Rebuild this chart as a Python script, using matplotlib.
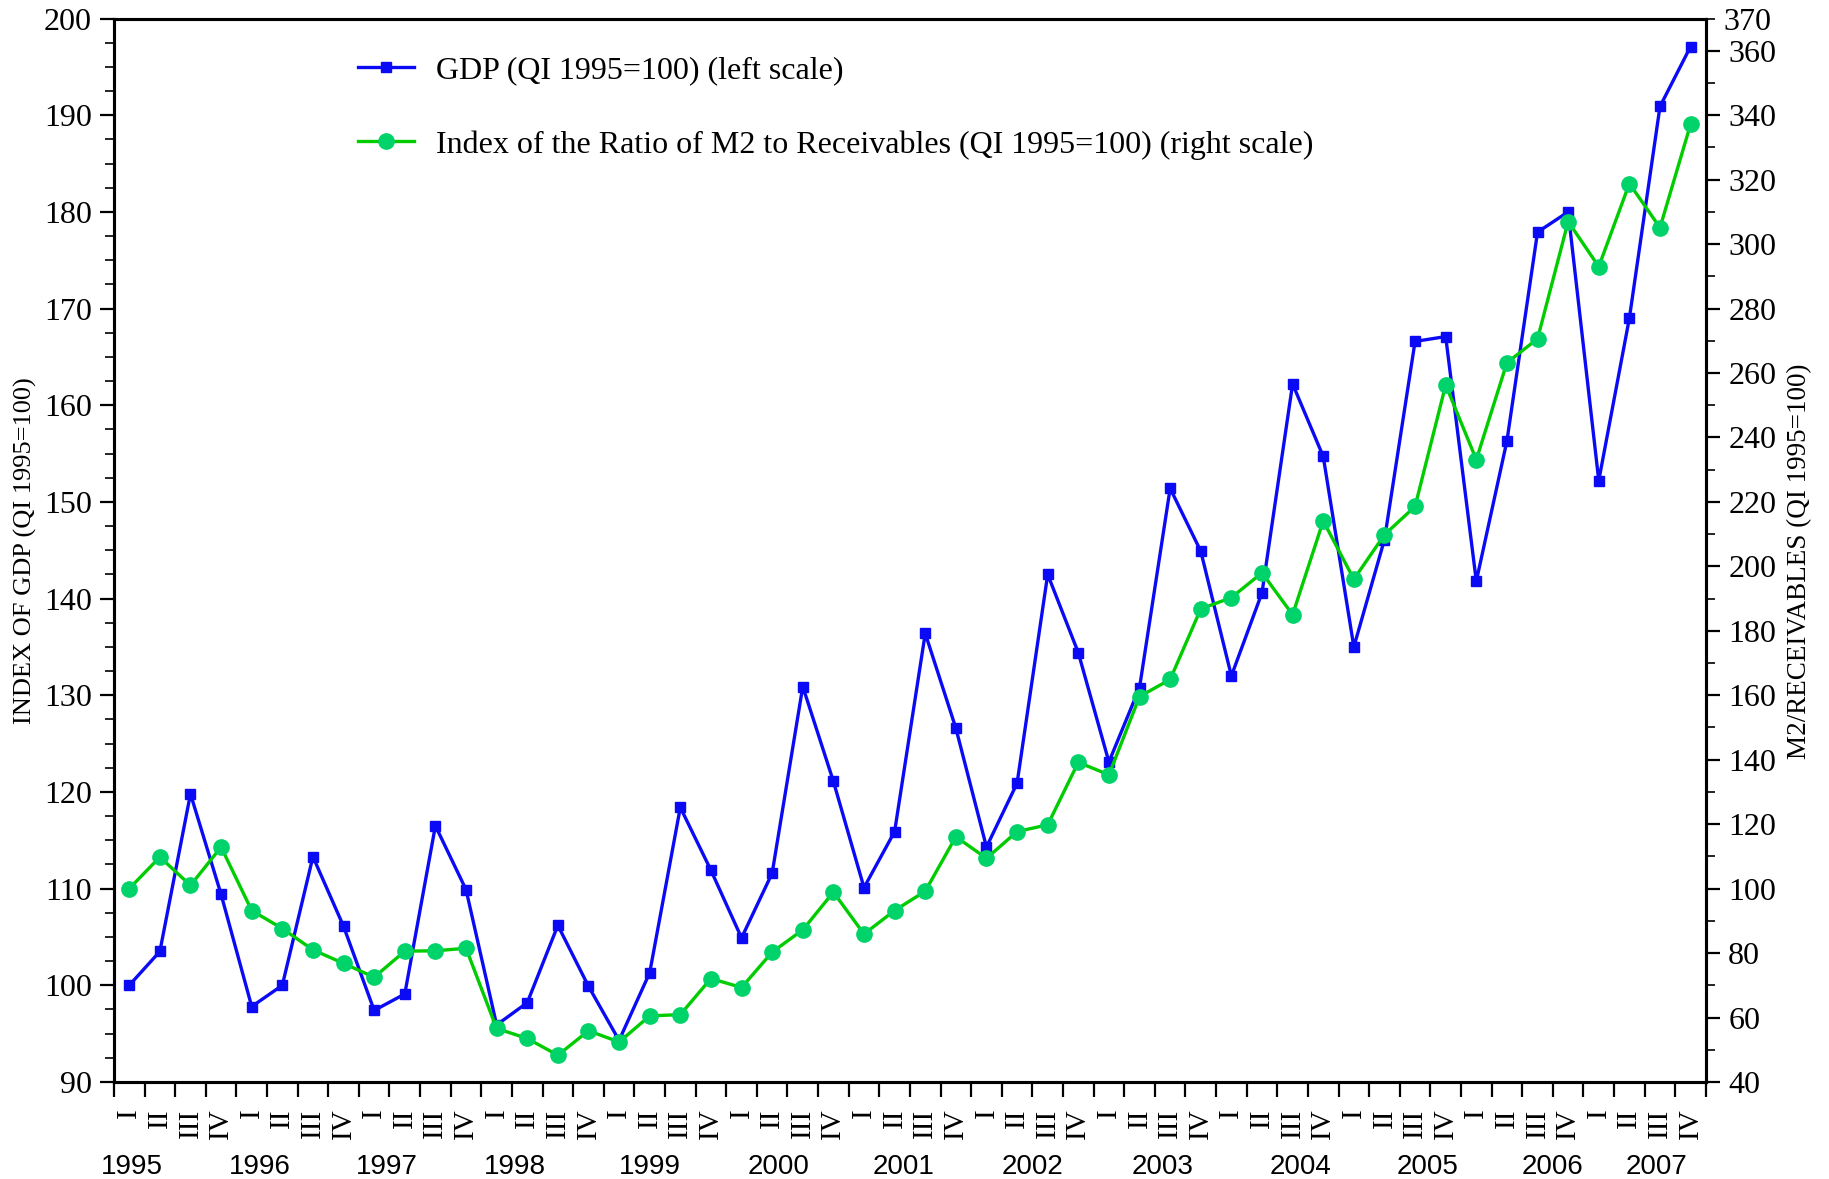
import matplotlib
matplotlib.use("Agg")
import matplotlib.pyplot as plt
from matplotlib.ticker import FixedLocator, FixedFormatter, MultipleLocator, NullFormatter
from matplotlib.transforms import blended_transform_factory

plt.rcParams['font.family'] = ['Liberation Serif', 'DejaVu Serif']

# quarterly series, 1995 QI .. 2007 QIV
years = [1995, 1996, 1997, 1998, 1999, 2000, 2001, 2002, 2003, 2004, 2005, 2006, 2007]
quarters = ["I", "II", "III", "IV"]

gdp = [100.0, 103.5, 119.8, 109.4,
       97.8, 100.0, 113.3, 106.1,
       97.4, 99.1, 116.5, 109.9,
       95.9, 98.2, 106.2, 99.9,
       94.3, 101.3, 118.4, 111.9,
       104.9, 111.6, 130.9, 121.1,
       110.1, 115.9, 136.4, 126.6,
       114.3, 120.9, 142.5, 134.4,
       123.1, 130.8, 151.4, 144.9,
       132.0, 140.6, 162.2, 154.7,
       135.0, 146.1, 166.6, 167.1,
       141.8, 156.3, 177.9, 180.0,
       152.2, 169.0, 190.9, 197.1]

m2_ratio = [100.0, 109.8, 101.0, 112.9,
            93.2, 87.6, 81.0, 76.8,
            72.5, 80.6, 80.7, 81.5,
            56.6, 53.5, 48.3, 55.9,
            52.4, 60.5, 60.9, 72.1,
            69.3, 80.3, 87.2, 98.9,
            85.9, 93.2, 99.2, 116.1,
            109.4, 117.7, 119.8, 139.2,
            135.3, 159.6, 164.9, 186.8,
            190.3, 198.0, 185.0, 214.1,
            196.0, 209.8, 218.6, 256.3,
            233.1, 263.2, 270.6, 307.0,
            293.0, 318.8, 305.1, 337.2]

# where the year captions sit along the quarter axis
year_label_x = [0.08, 4.26, 8.41, 12.6, 17.0, 21.2, 25.3, 29.5, 33.76, 38.25, 42.4, 46.5, 49.9]

n = len(gdp)
x = list(range(n))
q_labels = [quarters[i % 4] for i in x]

fig = plt.figure(figsize=(18.29, 11.79), dpi=100)
ax = fig.add_axes([0.0623, 0.0823, 0.8704, 0.902])
ax2 = ax.twinx()

l1, = ax.plot(x, gdp, color='#0a0af5', lw=2.4, marker='s', ms=7.5,
              mfc='#0a0af5', mec='#0a0af5', label='GDP (QI 1995=100) (left scale)')
l2, = ax2.plot(x, m2_ratio, color='#00cc00', lw=2.4, marker='o', ms=11,
               mfc='#00d36a', mec='#00d36a',
               label='Index of the Ratio of M2 to Receivables (QI 1995=100) (right scale)')

ax.set_xlim(-0.5, n - 0.5)
ax.set_ylim(90, 200)
ax2.set_ylim(40, 370)

# left scale
ax.yaxis.set_major_locator(MultipleLocator(10))
ax.yaxis.set_minor_locator(MultipleLocator(2.5))
ax.tick_params(axis='y', which='major', direction='out', length=10, width=1.6,
               labelsize=23, pad=6)
ax.tick_params(axis='y', which='minor', direction='out', length=6.5, width=1.2)

# right scale: majors every 20, minors every 10, 370 labelled at the top
ax2.yaxis.set_major_locator(FixedLocator(list(range(40, 361, 20))))
minor_r = list(range(50, 351, 20)) + [370]
ax2.yaxis.set_minor_locator(FixedLocator(minor_r))
ax2.yaxis.set_minor_formatter(FixedFormatter(['' for v in minor_r[:-1]] + ['370']))
ax2.tick_params(axis='y', which='major', direction='out', length=10, width=1.6,
                labelsize=23, pad=6)
ax2.tick_params(axis='y', which='minor', direction='out', length=6.5, width=1.2,
                labelsize=23, pad=6)

# quarter ticks on boundaries, roman numerals in between
ax.xaxis.set_major_locator(FixedLocator([i - 0.5 for i in range(n + 1)]))
ax.xaxis.set_major_formatter(NullFormatter())
ax.xaxis.set_minor_locator(FixedLocator(x))
ax.xaxis.set_minor_formatter(FixedFormatter(q_labels))
ax.tick_params(axis='x', which='major', direction='out', length=11, width=1.6)
ax.tick_params(axis='x', which='minor', length=0, pad=19, labelsize=21,
               labelrotation=90)

for a in (ax, ax2):
    for s in a.spines.values():
        s.set_linewidth(2.2)

trans = blended_transform_factory(ax.transData, fig.transFigure)
for yr, xp in zip(years, year_label_x):
    ax.text(xp, 0.010, str(yr), transform=trans, ha='center', va='center',
            fontsize=20, family=['Liberation Sans', 'DejaVu Sans'])

fig.text(0.014, 0.533, 'INDEX OF GDP (QI 1995=100)', rotation=90,
         ha='center', va='center', fontsize=19)
fig.text(0.984, 0.5236, 'M2/RECEIVABLES (QI 1995=100)', rotation=90,
         ha='center', va='center', fontsize=19.5)

ax2.legend([l1, l2], [l1.get_label(), l2.get_label()], loc='upper left',
           bbox_to_anchor=(0.187, 0.966), bbox_transform=fig.transFigure,
           frameon=False, borderpad=0, fontsize=23, handlelength=1.75,
           handletextpad=0.7, labelspacing=1.4)

fig.savefig('out.png', dpi=100)
